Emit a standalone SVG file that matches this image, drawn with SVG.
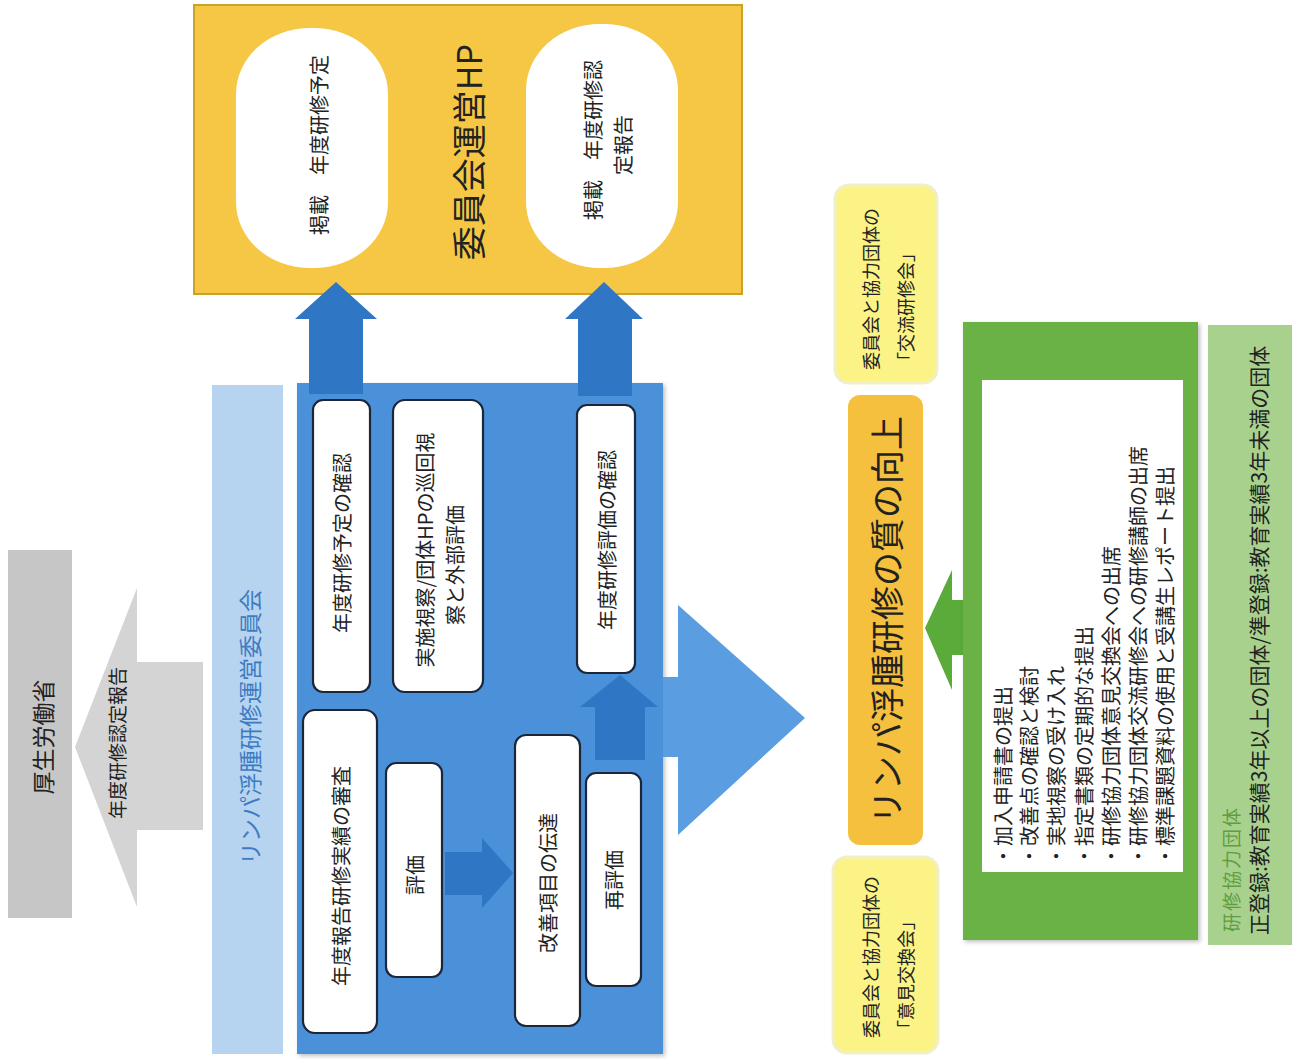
<svg xmlns="http://www.w3.org/2000/svg" width="1294" height="1059" viewBox="0 0 1294 1059">
<defs>
<style>
text{font-family:"Noto Sans CJK JP","Noto Sans",sans-serif;fill:#222;}
.c{text-anchor:middle;dominant-baseline:central;}
.s{text-anchor:start;dominant-baseline:central;}
.wbox{fill:#ffffff;stroke:#1b2638;stroke-width:2.2;}
.darr{fill:#2f77c4;}
.lyel{fill:#fbf385;stroke:#f1efc6;stroke-width:3;}
</style>
<filter id="sh" x="-5%" y="-5%" width="110%" height="110%">
<feDropShadow dx="2" dy="2" stdDeviation="2" flood-color="#000" flood-opacity="0.25"/>
</filter>
</defs>

<g id="mhlw">
<rect x="8" y="550" width="64" height="368" fill="#c6c6c6"/>
<text class="c" transform="translate(42,737) rotate(-90)" font-size="23" fill="#333">厚生労働省</text>
</g>

<g id="committee-label">
<rect x="212" y="385" width="71" height="669" fill="#b6d4f0"/>
<text class="c" transform="translate(249,727) rotate(-90)" font-size="23" style="fill:#3d7cc4">リンパ浮腫研修運営委員会</text>
</g>

<g id="hp">
<rect x="194" y="5" width="548" height="289" fill="#f6c744" stroke="#c9a227" stroke-width="2"/>
<text class="c" transform="translate(467,152) rotate(-90)" font-size="34" fill="#333">委員会運営HP</text>
</g>
<g id="hp-pill1">
<rect x="236" y="28" width="152" height="240" rx="74" ry="66" fill="#fff"/>
<text class="c" transform="translate(318,145) rotate(-90)" font-size="20">掲載　年度研修予定</text>
</g>
<g id="hp-pill2">
<rect x="526" y="24" width="152" height="244" rx="74" ry="66" fill="#fff"/>
<text class="c" transform="translate(592,140) rotate(-90)" font-size="20">掲載　年度研修認</text>
<text class="c" transform="translate(622,145) rotate(-90)" font-size="20">定報告</text>
</g>

<g id="committee-box">
<rect x="297" y="383" width="366" height="671" fill="#4b91da" filter="url(#sh)"/>
</g>

<g id="connectors">
<polygon points="75,747 137,588 137,662 203,662 203,830 137,830 137,907" fill="#d4d4d4"/>
<text class="c" transform="translate(116,743) rotate(-90)" font-size="19" fill="#333">年度研修認定報告</text>
<polygon class="darr" points="336,282 377,319 363,319 363,394 309,394 309,319 295,319"/>
<polygon class="darr" points="604,282 643,319 632,319 632,396 578,396 578,319 565,319"/>
<polygon class="darr" points="445,852 482,852 482,838 513,873 482,908 482,895 445,895"/>
<polygon class="darr" points="620,675 658,707 645,707 645,760 595,760 595,707 580,707"/>
<polygon points="663,677 678,677 678,605 805,718 678,835 678,757 663,757" fill="#5a9de0"/>
<polygon points="925,628 952,570 952,600 966,600 966,655 952,655 952,690" fill="#5aab3a"/>
</g>

<g id="box-plan-check">
<rect class="wbox" x="313" y="400" width="57" height="292" rx="10"/>
<text class="c" transform="translate(341,543) rotate(-90)" font-size="20">年度研修予定の確認</text>
</g>
<g id="box-visit">
<rect class="wbox" x="393" y="400" width="90" height="292" rx="12"/>
<text class="c" transform="translate(424,550) rotate(-90)" font-size="20">実施視察/団体HPの巡回視</text>
<text class="c" transform="translate(454,565) rotate(-90)" font-size="20">察と外部評価</text>
</g>
<g id="box-review">
<rect class="wbox" x="303" y="710" width="74" height="323" rx="12"/>
<text class="c" transform="translate(340,876) rotate(-90)" font-size="20">年度報告研修実績の審査</text>
</g>
<g id="box-eval">
<rect class="wbox" x="386" y="763" width="56" height="214" rx="10"/>
<text class="c" transform="translate(414,875) rotate(-90)" font-size="20">評価</text>
</g>
<g id="box-improve">
<rect class="wbox" x="515" y="735" width="65" height="291" rx="11"/>
<text class="c" transform="translate(547,883) rotate(-90)" font-size="20">改善項目の伝達</text>
</g>
<g id="box-reeval">
<rect class="wbox" x="586" y="773" width="55" height="213" rx="10"/>
<text class="c" transform="translate(613,880) rotate(-90)" font-size="20">再評価</text>
</g>
<g id="box-eval-check">
<rect class="wbox" x="577" y="405" width="58" height="268" rx="10"/>
<text class="c" transform="translate(606,540) rotate(-90)" font-size="20">年度研修評価の確認</text>
</g>

<g id="exchange-training">
<rect class="lyel" x="835" y="185" width="102" height="198" rx="14"/>
<text class="s" transform="translate(870,370) rotate(-90)" font-size="18">委員会と協力団体の</text>
<text class="s" transform="translate(905,370) rotate(-90)" font-size="18">「交流研修会」</text>
</g>
<g id="quality">
<rect x="848" y="395" width="75" height="450" rx="12" fill="#f4c03e"/>
<text class="c" transform="translate(885,620) rotate(-90)" font-size="34">リンパ浮腫研修の質の向上</text>
</g>
<g id="opinion-exchange">
<rect class="lyel" x="833" y="857" width="105" height="196" rx="14"/>
<text class="s" transform="translate(870,1038) rotate(-90)" font-size="18">委員会と協力団体の</text>
<text class="s" transform="translate(905,1038) rotate(-90)" font-size="18">「意見交換会」</text>
</g>

<g id="partner-duties">
<rect x="963" y="322" width="235" height="618" fill="#6bb244" filter="url(#sh)"/>
<rect x="982" y="380" width="201" height="492" fill="#fff"/>
<text class="s" transform="translate(1002,866) rotate(-90)" font-size="20">・加入申請書の提出</text>
<text class="s" transform="translate(1028,866) rotate(-90)" font-size="20">・改善点の確認と検討</text>
<text class="s" transform="translate(1055,866) rotate(-90)" font-size="20">・実地視察の受け入れ</text>
<text class="s" transform="translate(1083,866) rotate(-90)" font-size="20">・指定書類の定期的な提出</text>
<text class="s" transform="translate(1110,866) rotate(-90)" font-size="20">・研修協力団体意見交換会への出席</text>
<text class="s" transform="translate(1137,866) rotate(-90)" font-size="20">・研修協力団体交流研修会への研修講師の出席</text>
<text class="s" transform="translate(1164,866) rotate(-90)" font-size="20">・標準課題資料の使用と受講生レポート提出</text>
</g>

<g id="partner-org">
<rect x="1208" y="325" width="84" height="620" fill="#a9d18e"/>
<text class="s" transform="translate(1230,932) rotate(-90)" font-size="19" letter-spacing="2" style="fill:#5e9e3e">研修協力団体</text>
<text class="s" transform="translate(1258,935) rotate(-90)" font-size="21">正登録:教育実績3年以上の団体/準登録:教育実績3年未満の団体</text>
</g>
</svg>
